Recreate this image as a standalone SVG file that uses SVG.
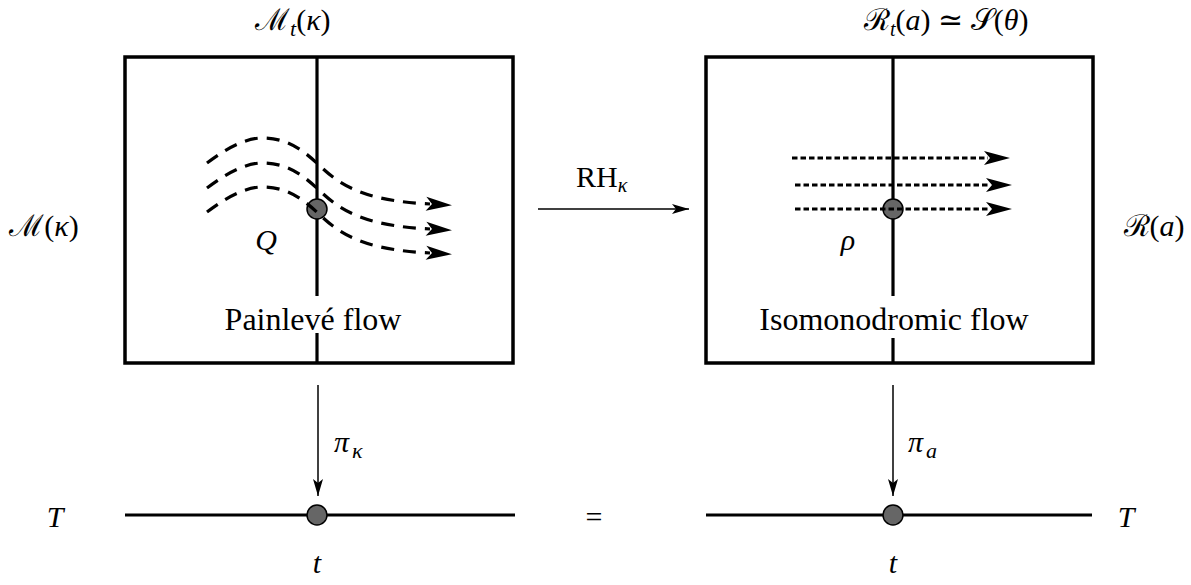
<svg xmlns="http://www.w3.org/2000/svg" width="1191" height="585" viewBox="0 0 1191 585">
<style>
text{font-family:"Liberation Serif","Times New Roman","DejaVu Serif",serif;fill:#000}
.lbl{font-size:32px}
.math{font-size:30px}
.it{font-style:italic}
.box{fill:none;stroke:#000;stroke-width:3.5}
.axis{stroke:#000;stroke-width:3.2;fill:none}
.flow{fill:none;stroke:#000;stroke-width:3.2;stroke-dasharray:13 9}
.dot{fill:none;stroke:#000;stroke-width:3.2;stroke-dasharray:5.5 3}
.thin{fill:none;stroke:#000;stroke-width:1.5}
.pt{fill:#666;stroke:#000;stroke-width:1.5}
</style>
<defs>
<marker id="stealth" markerUnits="userSpaceOnUse" markerWidth="30" markerHeight="16" viewBox="-2 -8 30 16" refX="4" refY="0" orient="auto" overflow="visible">
<path d="M0,-7 L26,0 L0,7 L6,0 Z" fill="#000"/>
</marker>
<marker id="thinhead" markerUnits="userSpaceOnUse" markerWidth="20" markerHeight="12" viewBox="-18 -6 20 12" refX="0" refY="0" orient="auto" overflow="visible">
<path d="M0,0 L-17,-5 L-13,0 L-17,5 Z" fill="#000"/>
</marker>
</defs>

<g id="box-left">
<rect class="box" x="125" y="57" width="388" height="306"/>
<line class="axis" x1="317" y1="57" x2="317" y2="296"/>
<line class="axis" x1="317" y1="333" x2="317" y2="363"/>
<text class="lbl" x="313" y="330" text-anchor="middle">Painlevé flow</text>
<circle class="pt" cx="317" cy="209" r="10"/>
<text class="math it" x="266" y="250" text-anchor="middle">Q</text>
</g>

<g id="flows-left">
<path class="flow" marker-end="url(#stealth)" d="M207,163 C228,147 248,137 265,138 C290,139 305,152 320,166 C345,190 372,201 430,204"/>
<path class="flow" marker-end="url(#stealth)" transform="translate(0,25)" d="M207,163 C228,147 248,137 265,138 C290,139 305,152 320,166 C345,190 372,201 430,204"/>
<path class="flow" marker-end="url(#stealth)" transform="translate(0,49)" d="M207,163 C228,147 248,137 265,138 C290,139 305,152 320,166 C345,190 372,201 430,204"/>
</g>

<g id="box-right">
<rect class="box" x="706" y="57" width="387" height="306"/>
<line class="axis" x1="893" y1="57" x2="893" y2="296"/>
<line class="axis" x1="893" y1="338" x2="893" y2="363"/>
<text class="lbl" x="894" y="330" text-anchor="middle">Isomonodromic flow</text>
<circle class="pt" cx="893" cy="209" r="10"/>
<text class="math it" x="848" y="250" text-anchor="middle">ρ</text>
</g>

<g id="flows-right">
<line class="dot" marker-end="url(#stealth)" x1="792" y1="158" x2="988" y2="158"/>
<line class="dot" marker-end="url(#stealth)" x1="795" y1="185" x2="990" y2="185"/>
<line class="dot" marker-end="url(#stealth)" x1="795" y1="209" x2="990" y2="209"/>
</g>

<g id="labels-top">
<text class="math" x="255" y="30" font-size="33">ℳ<tspan class="it" font-size="22" dy="6">t</tspan><tspan dy="-6">(</tspan><tspan class="it">κ</tspan>)</text>
<text class="math" x="864" y="30" font-size="28">ℛ<tspan class="it" font-size="20" dy="6">t</tspan><tspan dy="-6">(</tspan><tspan class="it">a</tspan>) ≃ 𝒮(<tspan class="it">θ</tspan>)</text>
</g>

<g id="label-M">
<text class="math" x="44" y="236" text-anchor="middle">ℳ(<tspan class="it">κ</tspan>)</text>
</g>
<g id="label-R">
<text class="math" x="1154" y="236" text-anchor="middle">ℛ(<tspan class="it">a</tspan>)</text>
</g>

<g id="axis-left">
<line class="axis" x1="125" y1="515" x2="515" y2="515"/>
<circle class="pt" cx="317" cy="515" r="10"/>
<text class="math it" x="55" y="527" text-anchor="middle">T</text>
<text class="math it" x="317" y="573" text-anchor="middle">t</text>
</g>
<g id="axis-right">
<line class="axis" x1="706" y1="515" x2="1092" y2="515"/>
<circle class="pt" cx="893" cy="515" r="10"/>
<text class="math it" x="1126" y="527" text-anchor="middle">T</text>
<text class="math it" x="893" y="573" text-anchor="middle">t</text>
</g>
<g id="equals">
<text class="math" x="594" y="527" text-anchor="middle">=</text>
</g>

<g id="connectors">
<line class="thin" marker-end="url(#thinhead)" x1="538" y1="209" x2="689" y2="209"/>
<line class="thin" marker-end="url(#thinhead)" x1="318" y1="385" x2="318" y2="496"/>
<line class="thin" marker-end="url(#thinhead)" x1="893" y1="385" x2="893" y2="496"/>
<text class="math" x="576" y="187">RH<tspan class="it" font-size="20" dy="5">κ</tspan></text>
<text class="math it" x="334" y="452">π<tspan font-size="22" dx="3" dy="6">κ</tspan></text>
<text class="math it" x="908" y="452">π<tspan font-size="22" dx="3" dy="6">a</tspan></text>
</g>
</svg>
